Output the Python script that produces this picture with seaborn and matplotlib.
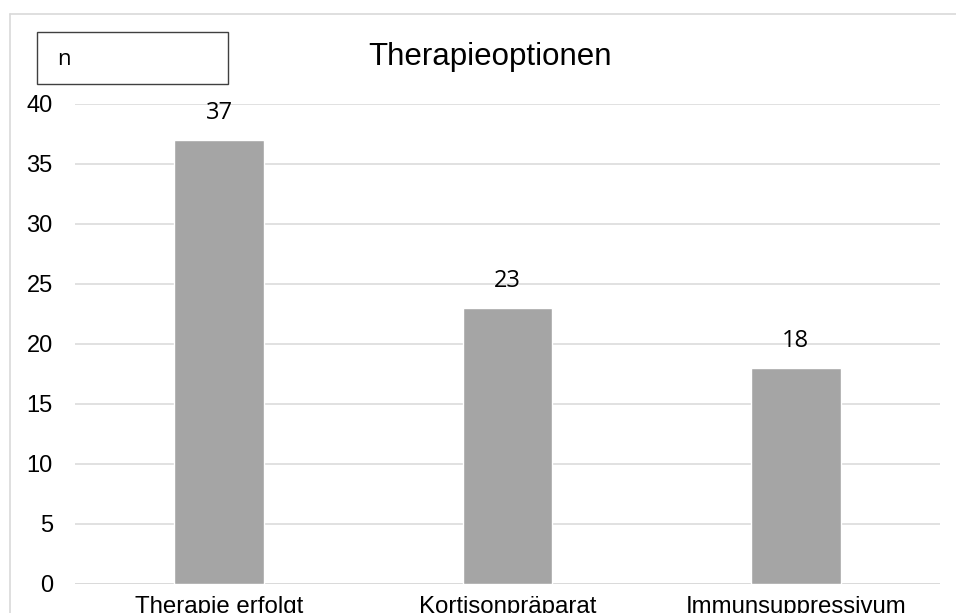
import matplotlib
matplotlib.use("Agg")
import matplotlib.pyplot as plt
from matplotlib.lines import Line2D
from matplotlib.patches import Rectangle
import seaborn as sns
import pandas as pd

categories = ["Therapie erfolgt", "Kortisonpräparat", "Immunsuppressivum"]
counts = [37, 23, 18]
y_ticks = [0, 5, 10, 15, 20, 25, 30, 35, 40]

df = pd.DataFrame({"Kategorie": categories, "n": counts})

sns.set_style("white")
plt.rcParams["font.family"] = ["Liberation Sans", "DejaVu Sans"]

W, H = 956, 613
fig = plt.figure(figsize=(W / 100, H / 100), dpi=100)
ax = fig.add_axes([75 / W, (H - 584) / H, 865 / W, 480 / H])

sns.barplot(data=df, x="Kategorie", y="n", color="#a5a5a5", width=0.31,
            saturation=1, ax=ax, zorder=3)

ax.set_xlim(-0.5, len(categories) - 0.5)
ax.set_ylim(0, 40)
ax.set_yticks(y_ticks)
ax.set_yticklabels([str(t) for t in y_ticks])
ax.yaxis.grid(True, color="#d9d9d9", linewidth=1.1, zorder=0)
ax.set_axisbelow(True)
for s in ax.spines.values():
    s.set_visible(False)
ax.tick_params(axis="y", length=0, pad=16, labelsize=17, labelcolor="#000000")
ax.tick_params(axis="x", length=0, pad=9, labelsize=17.3, labelcolor="#000000")
ax.set_xlabel("")
ax.set_ylabel("")

# bottom axis line
ax.axhline(0, color="#d9d9d9", linewidth=1.1, zorder=2)

# value labels above bars
for i, v in enumerate(counts):
    ax.annotate(str(v), xy=(i, v), xytext=(0, 19.5), textcoords="offset points",
                ha="center", va="center", fontsize=17,
                family=["Open Sans", "DejaVu Sans"], color="#000000")

# chart title
fig.text(490 / W, 1 - 65 / H, "Therapieoptionen", ha="center", va="baseline",
         fontsize=22.5, color="#000000")

# unit box
fig.add_artist(Rectangle((37 / W, 1 - 84 / H), (228 - 37) / W, (84 - 32) / H,
                         transform=fig.transFigure, facecolor="white",
                         edgecolor="#404040", linewidth=1.0))
fig.text(57 / W, 1 - 65 / H, "n", ha="left", va="baseline", fontsize=16,
         family=["Open Sans", "DejaVu Sans"], color="#000000")

# outer chart frame
fig.add_artist(Line2D([10 / W, 10 / W], [0, 1 - 14 / H], transform=fig.transFigure,
                      color="#d9d9d9", linewidth=1.2))
fig.add_artist(Line2D([10 / W, 1], [1 - 14 / H, 1 - 14 / H], transform=fig.transFigure,
                      color="#d9d9d9", linewidth=1.2))

fig.savefig("out.png", dpi=100, facecolor="white")
